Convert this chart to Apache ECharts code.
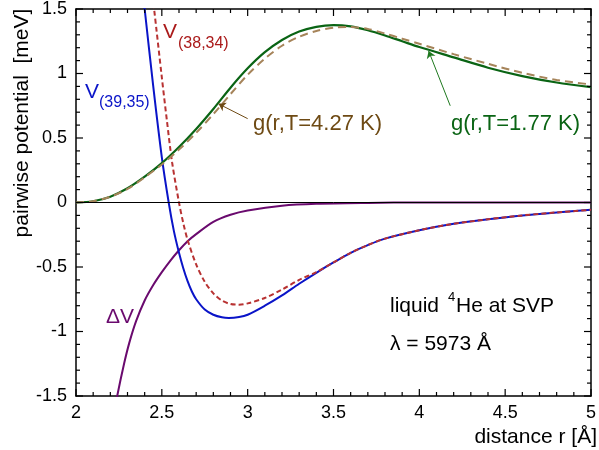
<!DOCTYPE html>
<html>
<head>
<meta charset="utf-8">
<script src="https://cdn.jsdelivr.net/npm/echarts@6/dist/echarts.min.js"></script>
<style>
  html, body { margin: 0; padding: 0; background: #fff; }
  #chart { width: 599px; height: 450px; }
</style>
</head>
<body>
<div id="chart"></div>
<script>
// distance r [Å] and potential values [meV]
var rBlue = [2.39, 2.40, 2.45, 2.50, 2.54, 2.57, 2.60, 2.625, 2.65, 2.675, 2.70, 2.75, 2.80, 2.85, 2.89, 2.95, 3.0, 3.1, 3.2, 3.3, 3.4, 3.5, 3.6, 3.7, 3.8, 4.0, 4.2, 4.4, 4.6, 4.8, 5.0];
var vBlue = [1.63, 1.5, 0.90, 0.35, 0.0, -0.22, -0.39, -0.51, -0.61, -0.69, -0.75, -0.83, -0.87, -0.89, -0.895, -0.888, -0.87, -0.80, -0.72, -0.63, -0.545, -0.465, -0.39, -0.33, -0.28, -0.215, -0.165, -0.13, -0.10, -0.077, -0.057];

var rRed = [2.44, 2.455, 2.50, 2.53, 2.56, 2.60, 2.625, 2.65, 2.70, 2.75, 2.80, 2.85, 2.90, 2.95, 3.0, 3.1, 3.2, 3.3, 3.4, 3.5, 3.6, 3.7, 3.8, 4.0, 4.2, 4.4, 4.6, 4.8, 5.0];
var vRed = [1.67, 1.5, 0.97, 0.63, 0.31, 0.0, -0.16, -0.29, -0.48, -0.615, -0.705, -0.76, -0.787, -0.792, -0.782, -0.74, -0.675, -0.60, -0.54, -0.465, -0.39, -0.33, -0.28, -0.215, -0.165, -0.13, -0.10, -0.077, -0.057];

var rDelta = [2.22, 2.24, 2.28, 2.31, 2.35, 2.40, 2.45, 2.50, 2.55, 2.60, 2.65, 2.70, 2.80, 2.90, 3.0, 3.2, 3.4, 3.7, 4.0, 4.5, 5.0];
var vDelta = [-1.65, -1.5, -1.25, -1.09, -0.92, -0.76, -0.64, -0.54, -0.45, -0.37, -0.30, -0.245, -0.15, -0.095, -0.062, -0.025, -0.01, -0.003, 0, 0, 0];

var rG = [2.0, 2.1, 2.2, 2.3, 2.4, 2.5, 2.6, 2.7, 2.8, 2.9, 3.0, 3.1, 3.2, 3.3, 3.4, 3.5, 3.6, 3.7, 3.8, 3.9, 4.0, 4.2, 4.4, 4.6, 4.8, 5.0];
var gCold = [0, 0.01, 0.045, 0.11, 0.2, 0.305, 0.43, 0.57, 0.725, 0.89, 1.04, 1.165, 1.26, 1.325, 1.362, 1.375, 1.365, 1.335, 1.295, 1.25, 1.205, 1.125, 1.045, 0.98, 0.93, 0.895];
var gWarm = [0, 0.01, 0.045, 0.105, 0.195, 0.295, 0.41, 0.54, 0.685, 0.84, 0.99, 1.115, 1.215, 1.285, 1.33, 1.355, 1.36, 1.345, 1.31, 1.27, 1.23, 1.15, 1.075, 1.005, 0.95, 0.915];

var xTicks = { min: 2, max: 5, interval: 0.5 };
var yTicks = { min: -1.5, max: 1.5, interval: 0.5 };
var minorSplit = 5;

function pairs(xs, ys) {
  return xs.map(function (x, i) { return [x, ys[i]]; });
}

// inward tick marks on all four sides: items are [x, y, length]
function tickList(kind) {
  var t = kind === 'x' ? xTicks : yTicks;
  var out = [];
  var n = Math.round((t.max - t.min) / t.interval) * minorSplit;
  for (var i = 0; i <= n; i++) {
    var v = +(t.min + i * t.interval / minorSplit).toFixed(4);
    var len = i % minorSplit === 0 ? 7 : 4;
    out.push(kind === 'x' ? [v, yTicks.min, len] : [xTicks.min, v, len]);
  }
  return out;
}

var font = '"Liberation Sans", Arial, sans-serif';

function frameAxis(kind, pos, showLabel) {
  var t = kind === 'x' ? xTicks : yTicks;
  return {
    type: 'value', position: pos, min: t.min, max: t.max, interval: t.interval,
    axisLine: { show: true, onZero: false, lineStyle: { color: '#000', width: 1.5 } },
    axisTick: { show: false },
    axisLabel: { show: showLabel, color: '#000', fontSize: 18, fontFamily: font, margin: kind === 'x' ? 8 : 9 },
    splitLine: { show: false }
  };
}

function tickSeries(kind) {
  return {
    type: 'custom', silent: true, clip: false, z: 5,
    data: tickList(kind),
    encode: { x: 0, y: 1 },
    renderItem: function (params, api) {
      var len = api.value(2);
      var style = { stroke: '#000', lineWidth: 1.2 };
      var a, b;
      if (kind === 'x') {
        a = api.coord([api.value(0), yTicks.min]);
        b = api.coord([api.value(0), yTicks.max]);
        return { type: 'group', children: [
          { type: 'line', shape: { x1: a[0], y1: a[1], x2: a[0], y2: a[1] - len }, style: style },
          { type: 'line', shape: { x1: b[0], y1: b[1], x2: b[0], y2: b[1] + len }, style: style }
        ] };
      }
      a = api.coord([xTicks.min, api.value(1)]);
      b = api.coord([xTicks.max, api.value(1)]);
      return { type: 'group', children: [
        { type: 'line', shape: { x1: a[0], y1: a[1], x2: a[0] + len, y2: a[1] }, style: style },
        { type: 'line', shape: { x1: b[0], y1: b[1], x2: b[0] - len, y2: b[1] }, style: style }
      ] };
    }
  };
}

function txt(x, y, text, color, size, align) {
  return {
    type: 'text', x: x, y: y, z: 100,
    style: { text: text, fill: color, font: size + 'px ' + font, textAlign: align || 'left', textVerticalAlign: 'middle' }
  };
}

function curve(name, xs, ys, color, width, dash) {
  return {
    name: name, type: 'line', data: pairs(xs, ys), showSymbol: false, smooth: 0.3,
    lineStyle: { color: color, width: width, type: dash || 'solid' }
  };
}

var chart = echarts.init(document.getElementById('chart'));

var sDelta = curve('dV', rDelta, vDelta, '#6a0a6e', 2);
sDelta.markLine = {
  silent: true, symbol: 'none', label: { show: false },
  lineStyle: { color: '#000', width: 1, type: 'solid' },
  data: [{ yAxis: 0 }]
};
var sCold = curve('g 1.77', rG, gCold, '#0a6414', 2.2);
sCold.markLine = {
  silent: true, symbol: ['none', 'arrow'], symbolSize: 7, label: { show: false },
  lineStyle: { color: '#1e781e', width: 1, type: 'solid' },
  data: [[{ coord: [4.18, 0.75] }, { coord: [4.054, 1.175] }]]
};
var sWarm = curve('g 4.27', rG, gWarm, '#a6845a', 2, [8, 5]);
sWarm.markLine = {
  silent: true, symbol: ['none', 'arrow'], symbolSize: 7, label: { show: false },
  lineStyle: { color: '#6e4a14', width: 1, type: 'solid' },
  data: [[{ coord: [3.0, 0.65] }, { coord: [2.83, 0.765] }]]
};

var option = {
  animation: false,
  grid: { left: 76, right: 1, top: 8, bottom: 54 },
  xAxis: [frameAxis('x', 'bottom', true), frameAxis('x', 'top', false)],
  yAxis: [frameAxis('y', 'left', true), frameAxis('y', 'right', false)],
  series: [
    tickSeries('x'),
    tickSeries('y'),
    sDelta,
    curve('V(39,35)', rBlue, vBlue, '#0a14c8', 2),
    curve('V(38,34)', rRed, vRed, '#b83232', 2, [5, 3]),
    sCold,
    sWarm
  ],
  graphic: [
    {
      type: 'text', x: 22, y: 123, rotation: Math.PI / 2, z: 100,
      style: { text: 'pairwise potential  [meV]', fill: '#000', font: '21px ' + font, textAlign: 'center', textVerticalAlign: 'middle' }
    },
    txt(597, 437, 'distance r [Å]', '#000', 21, 'right'),
    txt(85, 92, 'V', '#0a14c8', 21),
    txt(99, 103, '(39,35)', '#0a14c8', 16),
    txt(163, 32, 'V', '#aa1a1a', 21),
    txt(178, 44, '(38,34)', '#aa1a1a', 16),
    txt(106, 317, 'ΔV', '#6a0a6e', 21),
    txt(253, 124, 'g(r,T=4.27 K)', '#6e4a14', 22),
    txt(451, 124, 'g(r,T=1.77 K)', '#0a6414', 22),
    txt(390, 306, 'liquid', '#000', 21),
    txt(448, 297, '4', '#000', 13),
    txt(456, 306, 'He at SVP', '#000', 21),
    txt(390, 344, 'λ = 5973 Å', '#000', 21)
  ]
};

chart.setOption(option);
</script>
</body>
</html>
